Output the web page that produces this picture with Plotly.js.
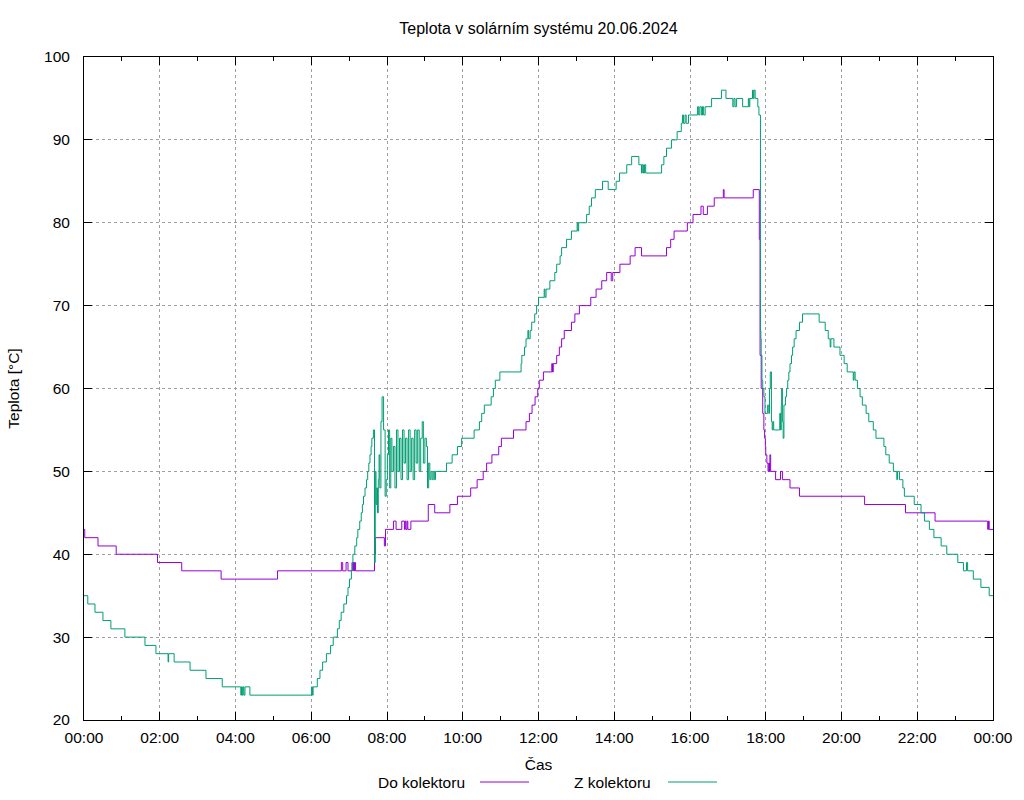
<!DOCTYPE html>
<html>
<head>
<meta charset="utf-8">
<script src="https://cdn.plot.ly/plotly-3.0.1.min.js"></script>
<style>html,body{margin:0;padding:0;background:#fff;}#chart{width:1024px;height:800px;}</style>
</head>
<body>
<div id="chart"></div>
<script>
// Time in hours of day (20.06.2024), value in °C, step changes
const doT = [0, 0.02, 0.37, 0.85, 1.94, 2.58, 3.62, 5.11, 6.795, 6.83, 6.92, 6.97, 7.08, 7.10, 7.11, 7.13, 7.14, 7.17, 7.67, 7.68, 7.69, 7.93, 7.96, 8.17, 8.24, 8.39, 8.46, 8.48, 8.50, 8.53, 8.55, 8.63, 9.09, 9.26, 9.66, 9.86, 10.21, 10.38, 10.54, 10.63, 10.77, 10.95, 11.02, 11.34, 11.67, 11.76, 11.83, 11.91, 11.98, 12.02, 12.13, 12.35, 12.37, 12.39, 12.48, 12.55, 12.61, 12.68, 12.87, 12.96, 13.08, 13.38, 13.52, 13.67, 13.8, 13.92, 13.96, 14.15, 14.42, 14.55, 14.72, 15.38, 15.49, 15.58, 15.93, 16.08, 16.29, 16.35, 16.46, 16.64, 16.88, 16.9, 17.67, 17.83, 17.85, 17.88, 17.92, 17.95, 17.97, 17.99, 18.0, 18.03, 18.06, 18.08, 18.1, 18.11, 18.13, 18.26, 18.39, 18.44, 18.64, 18.89, 20.61, 21.69, 22.47, 23.86, 23.88, 23.9, 24];
const doV = [43, 42, 41, 40, 39, 38, 37, 38, 39, 38, 39, 38, 39, 38, 39, 38, 39, 38, 41, 40, 42, 41, 43, 44, 43, 44, 43, 44, 43, 44, 43, 44, 46, 45, 46, 47, 48, 49, 50, 51, 52, 53, 54, 55, 56, 57, 58, 59, 60, 61, 62, 63, 62, 63, 64, 65, 66, 67, 68, 69, 70, 71, 72, 73, 74, 73, 74, 75, 76, 77, 76, 77, 78, 79, 80, 81, 82, 81, 82, 83, 84, 83, 84, 78, 64, 60, 57, 55, 54, 53, 52, 51, 50, 51, 50, 52, 50, 49, 50, 49, 48, 47, 46, 45, 44, 43, 44, 43, 43];

const zT = [0, 0.1, 0.29, 0.5, 0.71, 1.08, 1.61, 1.9, 2.22, 2.235, 2.38, 2.8, 3.22, 3.65, 4.14, 4.16, 4.18, 4.2, 4.22, 4.25, 4.38, 6.01, 6.03, 6.05, 6.16, 6.23, 6.3, 6.4, 6.51, 6.58, 6.69, 6.74, 6.79, 6.86, 6.93, 6.97, 7.01, 7.06, 7.08, 7.1, 7.15, 7.2, 7.23, 7.28, 7.32, 7.35, 7.38, 7.42, 7.46, 7.49, 7.52, 7.55, 7.58, 7.6, 7.64, 7.67, 7.69, 7.71, 7.73, 7.75, 7.77, 7.79, 7.81, 7.84, 7.87, 7.91, 7.95, 7.98, 8.01, 8.04, 8.07, 8.10, 8.13, 8.17, 8.21, 8.25, 8.29, 8.33, 8.37, 8.41, 8.45, 8.49, 8.53, 8.57, 8.61, 8.65, 8.69, 8.73, 8.77, 8.81, 8.85, 8.89, 8.93, 8.96, 9.0, 9.04, 9.07, 9.1, 9.13, 9.16, 9.19, 9.22, 9.25, 9.28, 9.57, 9.72, 9.86, 9.97, 10.3, 10.44, 10.5, 10.57, 10.75, 10.81, 10.86, 10.98, 11.54, 11.56, 11.63, 11.67, 11.72, 11.74, 11.78, 11.82, 11.9, 11.95, 12.0, 12.15, 12.17, 12.2, 12.3, 12.43, 12.48, 12.57, 12.61, 12.74, 12.87, 13.02, 13.04, 13.06, 13.27, 13.34, 13.4, 13.5, 13.69, 13.84, 14.05, 14.14, 14.33, 14.46, 14.65, 14.72, 14.74, 14.77, 14.8, 14.83, 15.25, 15.31, 15.38, 15.51, 15.66, 15.77, 15.8, 15.83, 15.87, 15.9, 15.96, 16.2, 16.23, 16.26, 16.3, 16.33, 16.36, 16.4, 16.57, 16.83, 16.95, 17.13, 17.16, 17.19, 17.23, 17.39, 17.54, 17.56, 17.58, 17.65, 17.67, 17.69, 17.72, 17.79, 17.82, 17.86, 17.87, 17.88, 17.9, 17.92, 17.95, 17.98, 18.05, 18.08, 18.1, 18.12, 18.15, 18.17, 18.19, 18.21, 18.37, 18.39, 18.41, 18.42, 18.44, 18.46, 18.48, 18.52, 18.55, 18.58, 18.61, 18.64, 18.68, 18.71, 18.75, 18.8, 18.89, 18.97, 19.41, 19.57, 19.65, 19.7, 19.72, 19.8, 19.96, 20.07, 20.15, 20.31, 20.33, 20.36, 20.42, 20.49, 20.55, 20.65, 20.72, 20.84, 20.91, 21.12, 21.17, 21.26, 21.37, 21.46, 21.48, 21.53, 21.62, 21.66, 21.92, 22.1, 22.19, 22.32, 22.44, 22.63, 22.78, 23.07, 23.22, 23.3, 23.33, 23.48, 23.68, 23.9, 24];
const zV = [35, 34, 33, 32, 31, 30, 29, 28, 27, 28, 27, 26, 25, 24, 23, 24, 23, 24, 23, 24, 23, 24, 23, 24, 25, 26, 27, 28, 29, 30, 31, 32, 33, 34, 35, 36, 37, 38, 39, 40, 41, 42, 43, 44, 45, 46, 47, 48, 49, 50, 51, 52, 53, 54, 55, 39, 50, 46, 48, 45, 49, 52, 48, 56, 59, 55, 47, 49, 52, 55, 48, 54, 50, 53, 48, 55, 50, 54, 49, 55, 51, 54, 49, 55, 50, 54, 49, 55, 51, 55, 50, 54, 56, 51, 54, 53, 48, 51, 49, 50, 49, 50, 49, 50, 51, 52, 53, 54, 55, 56, 57, 58, 59, 60, 61, 62, 63, 64, 65, 66, 67, 66, 67, 68, 69, 70, 71, 72, 71, 72, 73, 74, 75, 76, 77, 78, 79, 80, 79, 80, 81, 82, 83, 84, 85, 84, 85, 86, 87, 88, 87, 86, 87, 86, 87, 86, 87, 88, 89, 90, 91, 92, 93, 92, 93, 92, 93, 94, 93, 94, 93, 94, 93, 94, 95, 96, 95, 94, 95, 94, 95, 94, 95, 94, 95, 96, 95, 96, 95, 94, 93, 67, 66, 64, 61, 60, 59, 57, 58, 57, 60, 62, 56, 55, 56, 55, 57, 55, 58, 60, 56, 54, 58, 59, 60, 61, 62, 63, 64, 65, 66, 67, 68, 69, 68, 67, 66, 65, 66, 65, 64, 63, 62, 61, 62, 61, 60, 59, 58, 57, 56, 55, 54, 53, 52, 51, 50, 49, 50, 49, 48, 47, 46, 45, 44, 43, 42, 41, 40, 39, 38, 39, 38, 37, 36, 35, 35];

const seriesNames = ['Do kolektoru', 'Z kolektoru'];
const seriesColors = ['#9400d3', '#009e73'];
const titleText = 'Teplota v solárním systému 20.06.2024';
const xTitle = 'Čas';
const yTitle = 'Teplota [°C]';
const yTicks = [20, 30, 40, 50, 60, 70, 80, 90, 100];

function hToStr(h) {
  const base = Date.UTC(2024, 5, 20);
  const d = new Date(base + Math.round(h * 3600) * 1000);
  return d.toISOString().slice(0, 19).replace('T', ' ');
}

const traces = [
  {x: doT.map(hToStr), y: doV, type: 'scatter', mode: 'lines', name: seriesNames[0],
   line: {color: seriesColors[0], width: 1, shape: 'hv'}, showlegend: false},
  {x: zT.map(hToStr), y: zV, type: 'scatter', mode: 'lines', name: seriesNames[1],
   line: {color: seriesColors[1], width: 1, shape: 'hv'}, showlegend: false}
];

const FONT = 'Liberation Sans, Arial, sans-serif';
const L = 84, R = 993, T = 57, B = 720;
const px = v => (v - L) / (R - L);
const py = v => (B - v) / (B - T);

const legY = py(782);
const layout = {
  width: 1024, height: 800,
  margin: {l: L, r: 1024 - R, t: T, b: 800 - B, pad: 0},
  paper_bgcolor: '#ffffff', plot_bgcolor: '#ffffff',
  font: {family: FONT, size: 15.5, color: '#000000'},
  title: {text: titleText, x: 0.5, xref: 'paper', xanchor: 'center', y: 1 - 28 / 800, yref: 'container', yanchor: 'middle', font: {family: FONT, size: 16, color: '#000'}},
  showlegend: false,
  xaxis: {
    type: 'date', range: [hToStr(0), hToStr(24)], autorange: false,
    tick0: hToStr(0), dtick: 7200000, tickformat: '%H:%M',
    ticks: 'inside', ticklen: 8, tickwidth: 1, tickcolor: '#000',
    showline: true, linecolor: '#000', linewidth: 1, mirror: 'allticks',
    showgrid: true, gridcolor: '#a0a0a0', gridwidth: 1, griddash: '3px,3px',
    zeroline: false, automargin: false, ticklabelstandoff: 3,
    minor: {dtick: 3600000, ticks: 'inside', ticklen: 4, tickcolor: '#000', showgrid: false},
    title: {text: xTitle, standoff: 14, font: {family: FONT, size: 15.5}}
  },
  yaxis: {
    range: [20, 100], autorange: false, tickvals: yTicks,
    ticks: 'inside', ticklen: 8, tickwidth: 1, tickcolor: '#000',
    showline: true, linecolor: '#000', linewidth: 1, mirror: 'allticks',
    showgrid: true, gridcolor: '#a0a0a0', gridwidth: 1, griddash: '3px,3px',
    zeroline: false, automargin: false, ticklabelstandoff: 10,
    title: {text: yTitle, standoff: 20, font: {family: FONT, size: 15.5}}
  },
  annotations: [
    {text: seriesNames[0], xref: 'paper', yref: 'paper', x: px(467), y: legY, xanchor: 'right', yanchor: 'middle', showarrow: false, font: {family: FONT, size: 15.5}},
    {text: seriesNames[1], xref: 'paper', yref: 'paper', x: px(653), y: legY, xanchor: 'right', yanchor: 'middle', showarrow: false, font: {family: FONT, size: 15.5}}
  ],
  shapes: [
    {type: 'line', xref: 'paper', yref: 'paper', x0: px(480), x1: px(529), y0: legY, y1: legY, line: {color: seriesColors[0], width: 1}},
    {type: 'line', xref: 'paper', yref: 'paper', x0: px(668), x1: px(717), y0: legY, y1: legY, line: {color: seriesColors[1], width: 1}}
  ]
};

Plotly.newPlot('chart', traces, layout, {staticPlot: true, displayModeBar: false});
</script>
</body>
</html>
